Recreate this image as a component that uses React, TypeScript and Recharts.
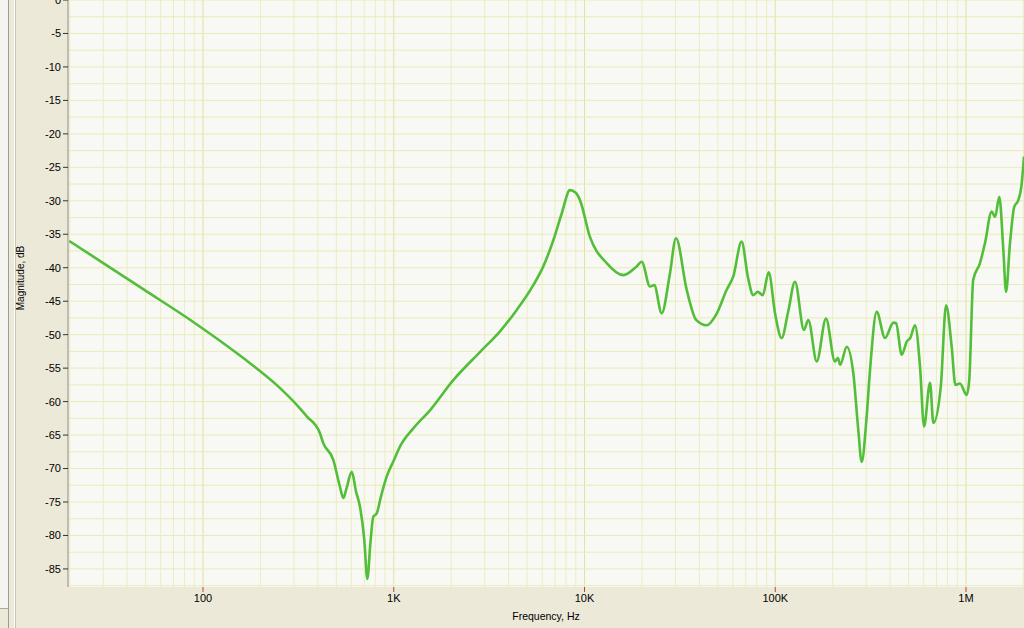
import React from 'react';
import { LineChart, Line, XAxis, YAxis, CartesianGrid, ReferenceLine } from 'recharts';

const frequencies: number[] = [
  19.9, 30, 48.6, 88.9, 162.7, 243, 322, 350, 410, 427, 482, 520, 544, 565, 602, 635, 665, 700, 727, 755,
  781, 814, 860, 918, 1000, 1079, 1266, 1549, 2051, 2830, 3606, 4413, 5391, 6081, 6864, 7596, 8395, 9000, 9468, 10680,
  13070, 15980, 18770, 19940, 22050, 23200, 25390, 28000, 30170, 34340, 38500, 43700, 49000, 55640, 60260,
  66600, 72000, 76700, 81000, 86000, 92350, 100000, 108000, 117000, 126900, 141500, 149000, 165000, 184500,
  205600, 213000, 219000, 237000, 256700, 272000, 284000, 300000, 313900, 340200, 376300, 416300, 430000,
  460300, 490000, 510000, 540400, 574100, 602600, 647700, 674300, 737400, 786100, 841300, 880000, 930000,
  1008000, 1040000, 1091000, 1184000, 1258000, 1363000, 1420000, 1495000, 1569000, 1621000, 1701000,
  1790000, 1881000, 1950000, 2014000,
];

const magnitudes: number[] = [
  -36.0, -39.3, -43.2, -48.1, -53.5, -57.5, -61.0, -62.2, -64.7, -66.2, -68.7, -72.5, -74.4, -73.0, -70.5, -73.5, -75.7, -80.5, -86.5, -81,
  -77.2, -76.7, -74, -71.2, -68.8, -66.7, -64.0, -61.3, -56.8, -52.6, -49.5, -46.3, -42.6, -39.8, -35.9, -31.9, -28.4, -28.8, -29.9, -35.4,
  -39.3, -41.1, -39.8, -39.1, -42.8, -42.6, -46.8, -41, -35.6, -43.3, -47.8, -48.6, -47, -43.3, -41.3,
  -36.1, -41.5, -44.1, -43.6, -44.1, -40.7, -47, -50.5, -46.5, -42.1, -49.3, -47.8, -54.0, -47.6,
  -54.0, -53.5, -54.5, -51.8, -55.8, -64, -69.0, -63, -55.3, -46.6, -50.5, -48.2, -48.3,
  -53.0, -51.0, -50.5, -48.6, -54.8, -63.7, -57.2, -63.2, -57.8, -45.6, -51.8, -57.5, -57.3,
  -59.0, -56.8, -41.8, -39.3, -36.3, -31.6, -32.4, -29.4, -37.3, -43.6, -36.3,
  -30.9, -29.9, -27.9, -23.4,
];

const xTicks: number[] = [100, 1000, 10000, 100000, 1000000];
const xTickLabels: string[] = ['100', '1K', '10K', '100K', '1M'];
const yTicks: number[] = [0, -5, -10, -15, -20, -25, -30, -35, -40, -45, -50, -55, -60, -65, -70, -75, -80, -85];

const data = frequencies.map((f, i) => ({ f, m: magnitudes[i] }));

// grid positions (log minor lines each decade, 2.5 dB horizontal lines)
const decades = [10, 100, 1000, 10000, 100000, 1000000];
const vGridMinor: number[] = [];
const vGridMajor: number[] = [];
decades.forEach((d) => {
  for (let k = 1; k <= 9; k++) {
    if (k === 1) vGridMajor.push(d);
    else vGridMinor.push(d * k);
  }
});
const hGrid: number[] = [];
for (let v = 0; v >= -87.5; v -= 2.5) hGrid.push(v);

const FONT = '"Liberation Sans", Arial, sans-serif';

export default function App() {
  return (
    <div style={{ position: 'absolute', left: 0, top: 0, width: 1024, height: 628, background: '#ECE9D8', overflow: 'hidden' }}>
      <div style={{ position: 'absolute', left: 0, top: 0, width: 8, height: 608, background: '#F4F4F0' }} />
      <div style={{ position: 'absolute', left: 0, top: 608, width: 9, height: 1, background: '#A8A8A0' }} />
      <div style={{ position: 'absolute', left: 8, top: 0, width: 1, height: 628, background: '#9C9C94' }} />
      <div style={{ position: 'absolute', left: 14, top: 0, width: 1, height: 628, background: '#FFFFFF' }} />
      <div style={{ position: 'absolute', left: 15, top: 0, width: 1, height: 628, background: '#C9C5B2' }} />
      <div style={{ position: 'absolute', left: 0, top: 0 }}>
        <LineChart width={1024} height={628} data={data} margin={{ top: 0, right: 0, bottom: 0, left: 0 }}>
          <CartesianGrid horizontal={false} vertical={false} fill="#F8F8F4" stroke="none" />
          {vGridMinor.map((v) => (
            <ReferenceLine key={'vm' + v} x={v} stroke="#ECEDC2" strokeWidth={1} />
          ))}
          {vGridMajor.map((v) => (
            <ReferenceLine key={'vM' + v} x={v} stroke="#E2E49E" strokeWidth={1} />
          ))}
          {hGrid.map((v) => (
            <ReferenceLine key={'h' + v} y={v} stroke="#E9EBB8" strokeWidth={1} />
          ))}
          <XAxis
            dataKey="f"
            type="number"
            scale="log"
            domain={[19.6, 2014000]}
            allowDataOverflow
            ticks={xTicks}
            interval={0}
            tickFormatter={(v: number) => xTickLabels[xTicks.indexOf(v)] ?? String(v)}
            height={41}
            axisLine={false}
            tickLine={{ stroke: '#C04040' }}
            tickSize={5}
            tickMargin={2}
            tick={{ fill: '#000', fontSize: 11, fontFamily: FONT }}
            label={{ value: 'Frequency, Hz', position: 'insideBottom', offset: 8, fill: '#000', fontSize: 10.5, fontFamily: FONT }}
          />
          <YAxis
            type="number"
            domain={[-87.7, 0]}
            allowDataOverflow
            ticks={yTicks}
            interval={0}
            width={68}
            axisLine={{ stroke: '#8C8C84' }}
            tickLine={{ stroke: '#333' }}
            tickSize={5}
            tickMargin={2}
            tick={{ fill: '#000', fontSize: 11, fontFamily: FONT }}
            label={{
              content: () => (
                <text
                  x={20}
                  y={278}
                  transform="rotate(-90 20 278)"
                  textAnchor="middle"
                  dominantBaseline="central"
                  fill="#000"
                  fontSize={10}
                  fontFamily={FONT}
                >
                  Magnitude, dB
                </text>
              ),
            }}
          />
          <Line
            type="monotone"
            dataKey="m"
            stroke="#52BE3A"
            strokeWidth={2.6}
            dot={false}
            isAnimationActive={false}
          />
        </LineChart>
      </div>
    </div>
  );
}
